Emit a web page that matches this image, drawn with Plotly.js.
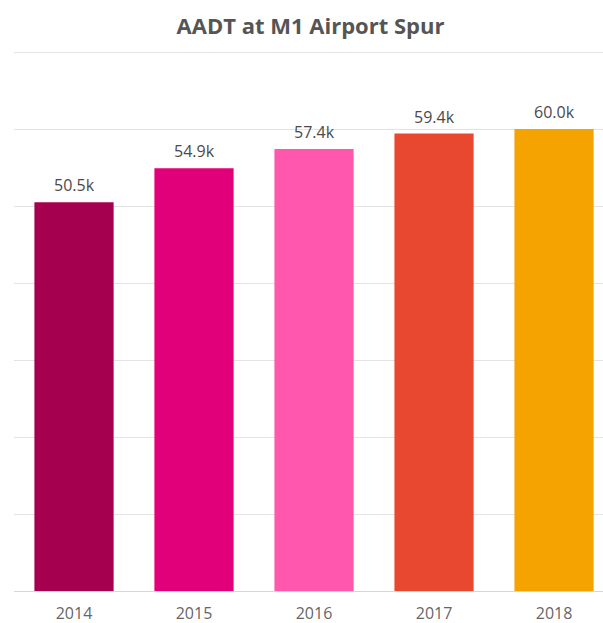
<!DOCTYPE html>
<html>
<head>
<meta charset="utf-8">
<script src="https://cdn.plot.ly/plotly-3.0.1.min.js"></script>
<style>html,body{margin:0;padding:0;background:#fff;overflow:hidden;}</style>
</head>
<body>
<div id="chart" style="width:603px;height:623px;"></div>
<script>
const years = ["2014", "2015", "2016", "2017", "2018"];
const aadt = [50500, 54900, 57400, 59400, 60000];
const labels = ["50.5k", "54.9k", "57.4k", "59.4k", "60.0k"];
const colors = ["#A5004F", "#E2007A", "#FF56AE", "#E8482F", "#F5A301"];

const trace = {
  type: "bar",
  x: years,
  y: aadt,
  marker: {color: colors},
  hoverinfo: "skip"
};

const annotations = years.map((yr, i) => ({
  xref: "x", yref: "y",
  x: i, y: aadt[i], text: labels[i],
  showarrow: false, xanchor: "center", yanchor: "bottom", yshift: 4,
  font: {family: "Open Sans", size: 16, color: "#4a4a4a"}
}));

const layout = {
  width: 603, height: 623,
  margin: {l: 14, r: 0, t: 50, b: 32, pad: 0},
  paper_bgcolor: "#fff", plot_bgcolor: "#fff",
  bargap: 0.34,
  showlegend: false,
  title: {text: "<b>AADT at M1 Airport Spur</b>", x: 0.515, xanchor: "center", y: 0.957, yanchor: "middle",
          font: {family: "Open Sans", size: 22, color: "#555555"}},
  xaxis: {type: "category", range: [-0.5, 4.408], showgrid: false, showline: true, linecolor: "#d6d6d6", linewidth: 1,
          ticks: "", ticklabelstandoff: 8, tickfont: {family: "Open Sans", size: 16, color: "#666666"}, fixedrange: true},
  yaxis: {range: [0, 70260], dtick: 10000, tick0: 0, showticklabels: false, gridcolor: "#e3e3e3", gridwidth: 1,
          zeroline: false, showline: false, fixedrange: true},
  annotations: annotations
};

Plotly.newPlot("chart", [trace], layout, {displayModeBar: false});
</script>
</body>
</html>
